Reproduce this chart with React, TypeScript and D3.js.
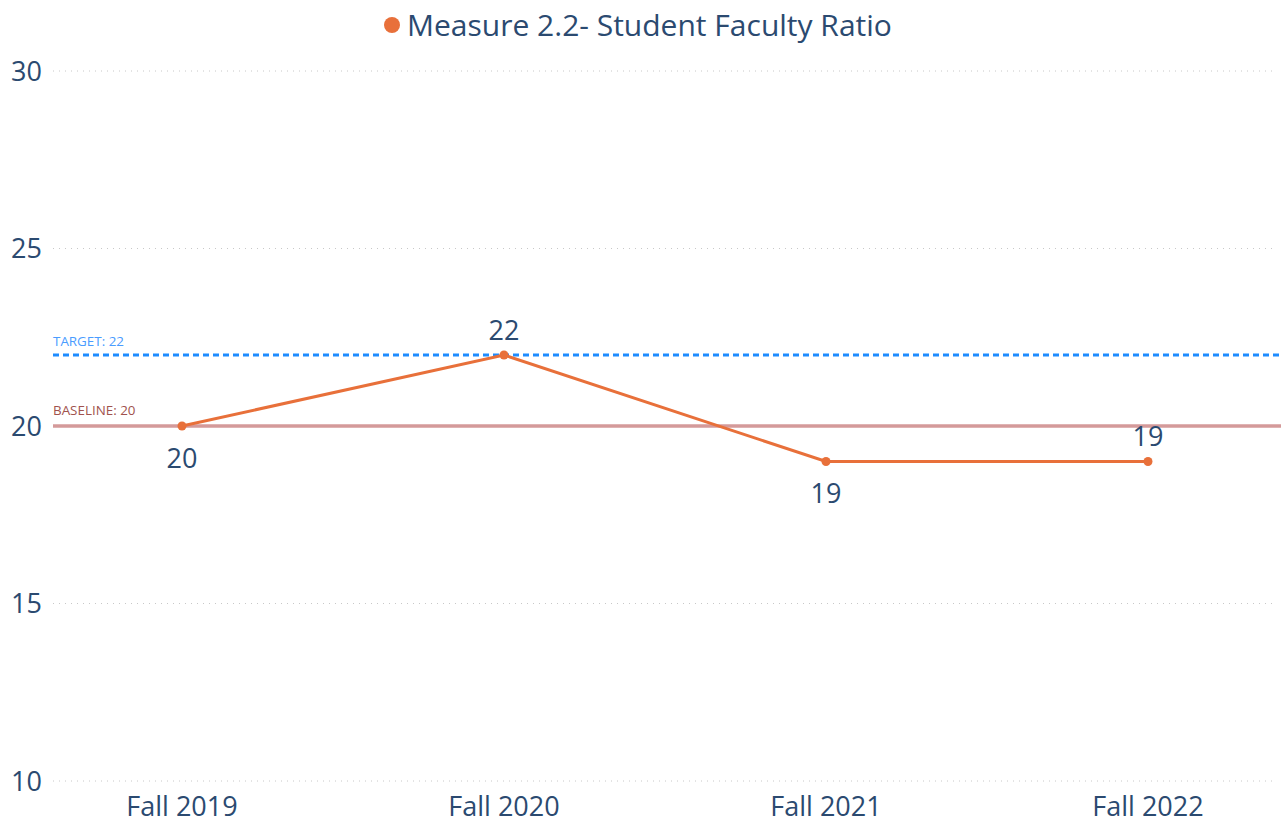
import * as d3 from "d3";
import { useEffect, useRef } from "react";

const CATEGORIES = ["Fall 2019", "Fall 2020", "Fall 2021", "Fall 2022"];
const VALUES = [20, 22, 19, 19];
// label placed above (-1) or below (+1) the point
const LABEL_SIDE = [1, -1, 1, -1];
const Y_TICKS = [10, 15, 20, 25, 30];
const TARGET = 22;
const BASELINE = 20;
const TITLE = "Measure 2.2- Student Faculty Ratio";

const W = 1281;
const H = 829;
const FONT = "'Open Sans', 'Noto Sans', sans-serif";
const TEXT_COLOR = "#2b4a70";
const LINE_COLOR = "#e8703a";

export default function App() {
  const svgRef = useRef<SVGSVGElement>(null);

  useEffect(() => {
    const svg = d3.select(svgRef.current);
    svg.selectAll("*").remove();

    const x = d3.scalePoint<string>().domain(CATEGORIES).range([21, 1309]).padding(0.5);
    const y = d3.scaleLinear().domain([10, 30]).range([781, 71]);

    const gridX0 = 53;
    const gridX1 = 1272;

    // ── Grid + y tick labels ──
    const grid = svg.append("g");
    grid.selectAll("line")
      .data(Y_TICKS)
      .enter()
      .append("line")
      .attr("x1", gridX0)
      .attr("x2", gridX1)
      .attr("y1", (d) => y(d))
      .attr("y2", (d) => y(d))
      .attr("stroke", "#c8c8c8")
      .attr("stroke-width", 1)
      .attr("stroke-dasharray", "1,5");

    grid.selectAll("text")
      .data(Y_TICKS)
      .enter()
      .append("text")
      .attr("x", 42)
      .attr("y", (d) => y(d))
      .attr("dy", "0.36em")
      .attr("text-anchor", "end")
      .style("font-family", FONT)
      .style("font-size", "27px")
      .style("fill", TEXT_COLOR)
      .text((d) => d);

    // ── Baseline ──
    svg.append("line")
      .attr("x1", gridX0).attr("x2", 1281)
      .attr("y1", y(BASELINE)).attr("y2", y(BASELINE))
      .attr("stroke", "#d49a9a")
      .attr("stroke-width", 3.5);
    svg.append("text")
      .attr("x", 53).attr("y", y(BASELINE) - 11)
      .style("font-family", FONT)
      .style("font-size", "13.4px")
      .style("fill", "#a0524d")
      .text(`BASELINE: ${BASELINE}`);

    // ── Target ──
    svg.append("line")
      .attr("x1", gridX0).attr("x2", 1281)
      .attr("y1", y(TARGET)).attr("y2", y(TARGET))
      .attr("stroke", "#1e8cff")
      .attr("stroke-width", 3)
      .attr("stroke-dasharray", "6,4");
    svg.append("text")
      .attr("x", 53).attr("y", y(TARGET) - 9)
      .style("font-family", FONT)
      .style("font-size", "13.4px")
      .style("fill", "#4a9cff")
      .text(`TARGET: ${TARGET}`);

    // ── Series ──
    const pts = CATEGORIES.map((c, i) => ({ c, v: VALUES[i], side: LABEL_SIDE[i] }));
    const line = d3.line<{ c: string; v: number }>()
      .x((d) => x(d.c)!)
      .y((d) => y(d.v));

    svg.append("path")
      .datum(pts)
      .attr("fill", "none")
      .attr("stroke", LINE_COLOR)
      .attr("stroke-width", 3)
      .attr("d", line);

    svg.selectAll(".pt")
      .data(pts)
      .enter()
      .append("circle")
      .attr("cx", (d) => x(d.c)!)
      .attr("cy", (d) => y(d.v))
      .attr("r", 4.5)
      .attr("fill", LINE_COLOR);

    svg.selectAll(".lbl")
      .data(pts)
      .enter()
      .append("text")
      .attr("x", (d) => x(d.c)!)
      .attr("y", (d) => y(d.v) + (d.side > 0 ? 32 : -25))
      .attr("dy", "0.36em")
      .attr("text-anchor", "middle")
      .style("font-family", FONT)
      .style("font-size", "27px")
      .style("fill", TEXT_COLOR)
      .text((d) => d.v);

    // ── X axis labels ──
    svg.selectAll(".xl")
      .data(CATEGORIES)
      .enter()
      .append("text")
      .attr("x", (d) => x(d)!)
      .attr("y", 806)
      .attr("dy", "0.36em")
      .attr("text-anchor", "middle")
      .style("font-family", FONT)
      .style("font-size", "27px")
      .style("fill", TEXT_COLOR)
      .text((d) => d);

    // ── Legend / title ──
    svg.append("circle")
      .attr("cx", 392).attr("cy", 25).attr("r", 8)
      .attr("fill", LINE_COLOR);
    svg.append("text")
      .attr("x", 407).attr("y", 25)
      .attr("dy", "0.36em")
      .style("font-family", FONT)
      .style("font-size", "30px")
      .style("fill", TEXT_COLOR)
      .text(TITLE);
  }, []);

  return (
    <svg
      ref={svgRef}
      width={W}
      height={H}
      style={{ position: "absolute", left: 0, top: 0, background: "#fff" }}
    />
  );
}
